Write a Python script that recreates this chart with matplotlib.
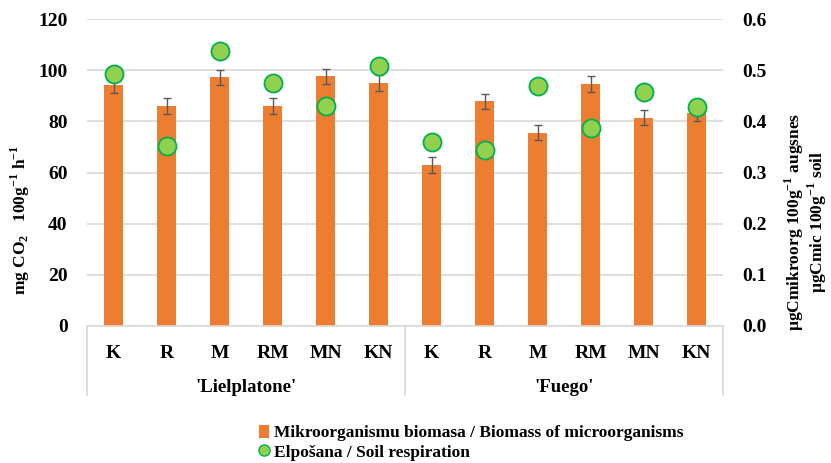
import numpy as np
import matplotlib.pyplot as plt
from matplotlib.lines import Line2D
from matplotlib.patches import Patch

plt.rcParams['font.family'] = ['Liberation Serif', 'DejaVu Serif']
plt.rcParams['font.weight'] = 'bold'
plt.rcParams['mathtext.fontset'] = 'custom'
plt.rcParams['mathtext.rm'] = 'Liberation Serif:bold'
plt.rcParams['mathtext.bf'] = 'Liberation Serif:bold'

groups = ["'Lielplatone'", "'Fuego'"]
treatments = ['K', 'R', 'M', 'RM', 'MN', 'KN']

# biomass of microorganisms (right axis), with error
biomass = [0.471, 0.430, 0.486, 0.430, 0.488, 0.475,
           0.315, 0.439, 0.378, 0.473, 0.407, 0.416]
biomass_err = [0.015] * 12

# soil respiration (left axis)
respiration = [98.5, 70.4, 107.6, 94.9, 85.9, 101.6,
               71.8, 68.8, 93.7, 77.4, 91.3, 85.5]

bar_color = '#ED7D31'
dot_face = '#92D050'
dot_edge = '#00B050'
grid_color = '#d9d9d9'

fig = plt.figure(figsize=(8.31, 4.63), dpi=100)
ax = fig.add_axes([87 / 831, 1 - 326 / 463, (723 - 87) / 831, (326 - 19) / 463])
ax2 = ax.twinx()

x = np.arange(len(biomass))

# bars on the right axis
ax2.bar(x, biomass, width=0.365, color=bar_color, zorder=2)
ax2.errorbar(x, biomass, yerr=biomass_err, fmt='none', ecolor='#595959',
             elinewidth=1, capsize=3, capthick=1, zorder=3)
ax2.set_ylim(0, 0.6)
ax2.set_yticks(np.arange(0, 0.61, 0.1))
ax2.set_yticklabels([f'{v:.1f}' for v in np.arange(0, 0.61, 0.1)])
ax2.yaxis.grid(True, color=grid_color, linewidth=1.2)
ax2.set_axisbelow(True)

# dots on the left axis, drawn above the bars
ax.set_zorder(ax2.get_zorder() + 1)
ax.patch.set_visible(False)
ax.plot(x, respiration, 'o', markersize=13, markerfacecolor=dot_face,
        markeredgecolor=dot_edge, markeredgewidth=1.3, linestyle='none')
ax.set_ylim(0, 120)
ax.set_yticks(range(0, 121, 20))
ax.set_xlim(-0.5, len(biomass) - 0.5)
ax.set_xticks(x)
ax.set_xticklabels(treatments * 2)

for a in (ax, ax2):
    for s in a.spines.values():
        s.set_visible(False)
    a.tick_params(length=0, labelsize=14)
ax.tick_params(axis='y', pad=14)
ax2.tick_params(axis='y', pad=14)
ax.tick_params(axis='x', pad=14)
ax.spines['bottom'].set_visible(True)
ax.spines['bottom'].set_color(grid_color)
ax.spines['bottom'].set_linewidth(1.2)

# group labels and separators under the axis
n = len(treatments)
for i, g in enumerate(groups):
    ax.text((i * n + n / 2) / len(biomass), -0.2, g, transform=ax.transAxes,
            ha='center', va='center', fontsize=13.5)
for i in range(len(groups) + 1):
    xf = i * n / len(biomass)
    ax.add_line(Line2D([xf, xf], [0, -0.225], transform=ax.transAxes,
                       color=grid_color, linewidth=1.2, clip_on=False))

sup = r'$^{\mathregular{-1}}$'
fig.text(20 / 831, 1 - 220 / 463, r'mg CO$_{\mathregular{2}}$   100g' + sup + ' h' + sup,
         rotation=90, ha='center', va='center', fontsize=12.5)
fig.text(806 / 831, 1 - 222 / 463,
         'µgCmikroorg 100g' + sup + ' augsnes\nµgCmic 100g' + sup + ' soil',
         rotation=90, ha='center', va='center', fontsize=12.5, linespacing=0.95)

handles = [Patch(facecolor=bar_color, edgecolor='none'),
           Line2D([], [], marker='o', linestyle='none', markersize=8,
                  markerfacecolor=dot_face, markeredgecolor=dot_edge)]
labels = ['Mikroorganismu biomasa / Biomass of microorganisms',
          'Elpošana / Soil respiration']
fig.legend(handles, labels, loc='upper left',
           bbox_to_anchor=(250 / 831, 1 - 416 / 463), frameon=False,
           fontsize=12.5, handlelength=0.6, handleheight=0.8,
           handletextpad=0.3, labelspacing=0.15, borderpad=0)

fig.savefig('out.png', dpi=100, facecolor='white')
